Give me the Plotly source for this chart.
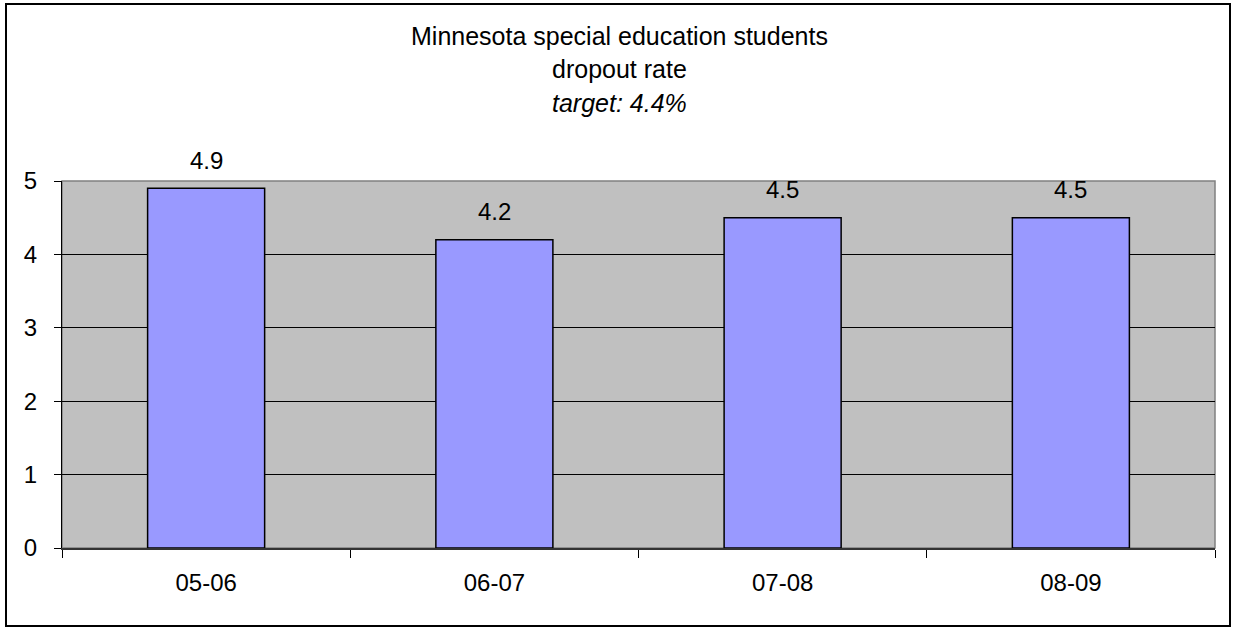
import plotly.graph_objects as go

categories = ["05-06", "06-07", "07-08", "08-09"]
values = [4.9, 4.2, 4.5, 4.5]
title_lines = ["Minnesota special education students", "dropout rate", "target: 4.4%"]
y_ticks = [0, 1, 2, 3, 4, 5]

FONT = "Liberation Sans, Arial, sans-serif"
FS = 24
TFS = 25

fig = go.Figure()
fig.add_trace(go.Bar(
    x=categories, y=values,
    marker=dict(color="#9999FF", line=dict(color="black", width=1.5)),
    width=0.406,
    hoverinfo="x+y",
))

for c, v in zip(categories, values):
    fig.add_annotation(x=c, y=v, text=f"{v:.1f}", showarrow=False,
                       yanchor="middle", yshift=28,
                       font=dict(family=FONT, size=FS, color="black"))

L, R, T, B = 62, 18, 181, 80
W, H = 1233, 628
pw, ph = W - L - R, H - T - B

def px_to_paper_x(px):
    return (px - L) / pw

def px_to_paper_y(py):
    return (H - B - py) / ph

# title lines
title_y = [36, 69, 103]
for i, (line, yy) in enumerate(zip(title_lines, title_y)):
    txt = f"<i>{line}</i>" if i == 2 else line
    fig.add_annotation(x=px_to_paper_x(619), y=px_to_paper_y(yy), xref="paper", yref="paper",
                       text=txt, showarrow=False, xanchor="center", yanchor="middle",
                       font=dict(family=FONT, size=TFS, color="black"))

# plot area frame (gray top/right)
fig.add_shape(type="rect", xref="paper", yref="paper", x0=0, x1=1, y0=0, y1=1,
              line=dict(color="#808080", width=1.5), layer="below")
# outer chart border
fig.add_shape(type="rect", xref="paper", yref="paper",
              x0=px_to_paper_x(6), x1=px_to_paper_x(1230),
              y0=px_to_paper_y(626), y1=px_to_paper_y(4),
              line=dict(color="black", width=2))

fig.update_layout(
    width=W, height=H,
    margin=dict(l=L, r=R, t=T, b=B, pad=0),
    paper_bgcolor="white",
    plot_bgcolor="#C0C0C0",
    showlegend=False,
    font=dict(family=FONT, size=FS, color="black"),
    bargap=0.594,
)
fig.update_xaxes(
    type="category", showgrid=False, showline=True, linecolor="#333333", linewidth=1.5,
    ticks="outside", tickson="boundaries", ticklen=8, tickcolor="black", tickwidth=1,
    tickfont=dict(family=FONT, size=FS, color="black"), ticklabelstandoff=12,
)
fig.update_yaxes(
    range=[0, 5], tickvals=y_ticks, showgrid=True, gridcolor="black", gridwidth=1,
    showline=True, linecolor="black", linewidth=1, zeroline=False,
    ticks="outside", ticklen=7, tickcolor="black", tickwidth=1,
    tickfont=dict(family=FONT, size=FS, color="black"), ticklabelstandoff=12,
)

fig.write_html("out.html")
